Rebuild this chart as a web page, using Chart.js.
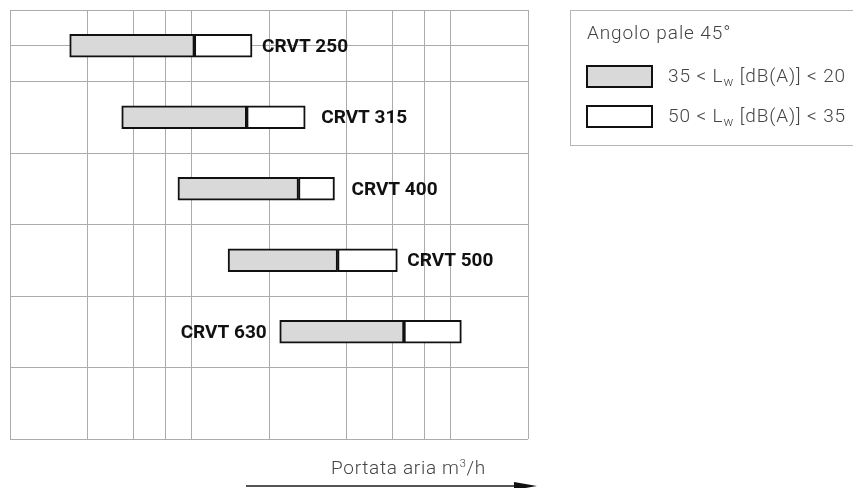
<!DOCTYPE html>
<html>
<head>
<meta charset="utf-8">
<script src="https://cdn.jsdelivr.net/npm/chart.js@4.4.1/dist/chart.umd.min.js"></script>
<style>
  html, body { margin: 0; padding: 0; background: #fff; }
  #wrap { position: relative; width: 853px; height: 488px; overflow: hidden; font-family: Roboto, "DejaVu Sans", sans-serif; }
  #c { position: absolute; left: 0; top: 0; }
  #legend { position: absolute; left: 570px; top: 10px; width: 320px; height: 136px; border: 1px solid #b5b5b5; box-sizing: border-box; color: #444; }
  #legend .title { position: absolute; left: 16px; top: 10px; font-size: 19px; font-weight: 300; letter-spacing: 0.9px; white-space: nowrap; }
  #legend .row { position: absolute; left: 15px; height: 22px; white-space: nowrap; }
  #legend .sw { position: absolute; left: 0; top: 0; width: 67px; height: 23px; border: 2px solid #111; box-sizing: border-box; }
  #legend .lbl { position: absolute; left: 82px; top: -1px; font-size: 19px; font-weight: 300; letter-spacing: 0.9px; }
  #legend sub { font-size: 13px; vertical-align: -4px; line-height: 0; }
  #xtitle { position: absolute; left: 331px; top: 456px; font-size: 19px; font-weight: 300; color: #444; letter-spacing: 0.7px; white-space: nowrap; }
  #xtitle sup { font-size: 11px; vertical-align: 7px; line-height: 0; }
  #arrowLine { position: absolute; left: 246px; top: 485px; width: 272px; height: 2px; background: #555; }
  #arrowHead { position: absolute; left: 514px; top: 482px; width: 0; height: 0; border-left: 23px solid #111; border-top: 4px solid transparent; border-bottom: 4px solid transparent; }
</style>
</head>
<body>
<div id="wrap">
  <canvas id="c" width="853" height="488"></canvas>
  <div id="legend">
    <div class="title" id="legTitle"></div>
    <div class="row" style="top:54px"><div class="sw" style="background:#d9d9d9"></div><div class="lbl" id="leg0"></div></div>
    <div class="row" style="top:94px"><div class="sw" style="background:#ffffff"></div><div class="lbl" id="leg1"></div></div>
  </div>
  <div id="xtitle">Portata aria m<sup>3</sup>/h</div>
  <div id="arrowLine"></div>
  <div id="arrowHead"></div>
</div>
<script>
// ---- data ----
const categories = ['CRVT 250', 'CRVT 315', 'CRVT 400', 'CRVT 500', 'CRVT 630'];
const rowPositions = [0.5, 1.5, 2.5, 3.5, 4.5];
const quietStart = [170, 270, 445, 695, 1100];     // start of grey band (m3/h)
const quietEnd = [515, 820, 1300, 1840, 3320];     // end of grey band / start of white band
const loudEnd = [860, 1380, 1790, 3130, 5530];     // end of white band
const xTicks = [100, 200, 300, 400, 500, 1000, 2000, 3000, 4000, 5000, 10000];
const yTicks = [0, 0.5, 1, 2, 3, 4, 5, 6];
const legendTitle = 'Angolo pale 45°';
const seriesNames = ['35 < L<sub>w</sub> [dB(A)] < 20', '50 < L<sub>w</sub> [dB(A)] < 35'];

// ---- label style ----
const labelSide = ['right', 'right', 'right', 'right', 'left'];
const labelGap = [10, 16, 17, 10, 13];

document.getElementById('legTitle').textContent = legendTitle;
document.getElementById('leg0').innerHTML = seriesNames[0];
document.getElementById('leg1').innerHTML = seriesNames[1];

const greyData = categories.map((c, i) => ({ y: rowPositions[i], x: [quietStart[i], quietEnd[i]] }));
const whiteData = categories.map((c, i) => ({ y: rowPositions[i], x: [quietEnd[i], loudEnd[i]] }));

const barLabels = {
  id: 'barLabels',
  afterDatasetsDraw(chart) {
    const ctx = chart.ctx;
    const m0 = chart.getDatasetMeta(0), m1 = chart.getDatasetMeta(1);
    ctx.save();
    ctx.font = 'bold 19px Roboto, "DejaVu Sans", sans-serif';
    ctx.fillStyle = '#111';
    ctx.textBaseline = 'alphabetic';
    categories.forEach((lab, i) => {
      const g = m0.data[i], w = m1.data[i];
      const left = Math.min(g.x, g.base);
      const right = Math.max(w.x, w.base);
      const y = g.y + 6;
      if (labelSide[i] === 'right') {
        ctx.textAlign = 'left';
        ctx.fillText(lab, right + labelGap[i], y);
      } else {
        ctx.textAlign = 'right';
        ctx.fillText(lab, left - labelGap[i], y);
      }
    });
    ctx.restore();
  }
};

new Chart(document.getElementById('c'), {
  type: 'bar',
  data: {
    datasets: [
      { label: 'grey', data: greyData, backgroundColor: '#d9d9d9', borderColor: '#111', borderWidth: 2, borderSkipped: false, grouped: false, barThickness: 23 },
      { label: 'white', data: whiteData, backgroundColor: '#ffffff', borderColor: '#111', borderWidth: 2, borderSkipped: false, grouped: false, barThickness: 23 }
    ]
  },
  options: {
    indexAxis: 'y',
    responsive: false,
    animation: false,
    devicePixelRatio: 1,
    layout: { padding: { left: 10, top: 10, right: 325, bottom: 49 } },
    plugins: { legend: { display: false }, tooltip: { enabled: false } },
    scales: {
      x: {
        type: 'logarithmic',
        min: 100, max: 10000,
        offset: false,
        afterBuildTicks: (axis) => { axis.ticks = xTicks.map(v => ({ value: v })); },
        ticks: { display: false },
        grid: { color: '#ababab', lineWidth: 1, drawTicks: false, offset: false },
        border: { display: false }
      },
      y: {
        type: 'linear',
        reverse: true,
        min: 0, max: 6,
        offset: false,
        afterBuildTicks: (axis) => { axis.ticks = yTicks.map(v => ({ value: v })); },
        ticks: { display: false },
        grid: { color: '#ababab', lineWidth: 1, drawTicks: false, offset: false },
        border: { display: false }
      }
    }
  },
  plugins: [barLabels]
});
</script>
</body>
</html>
